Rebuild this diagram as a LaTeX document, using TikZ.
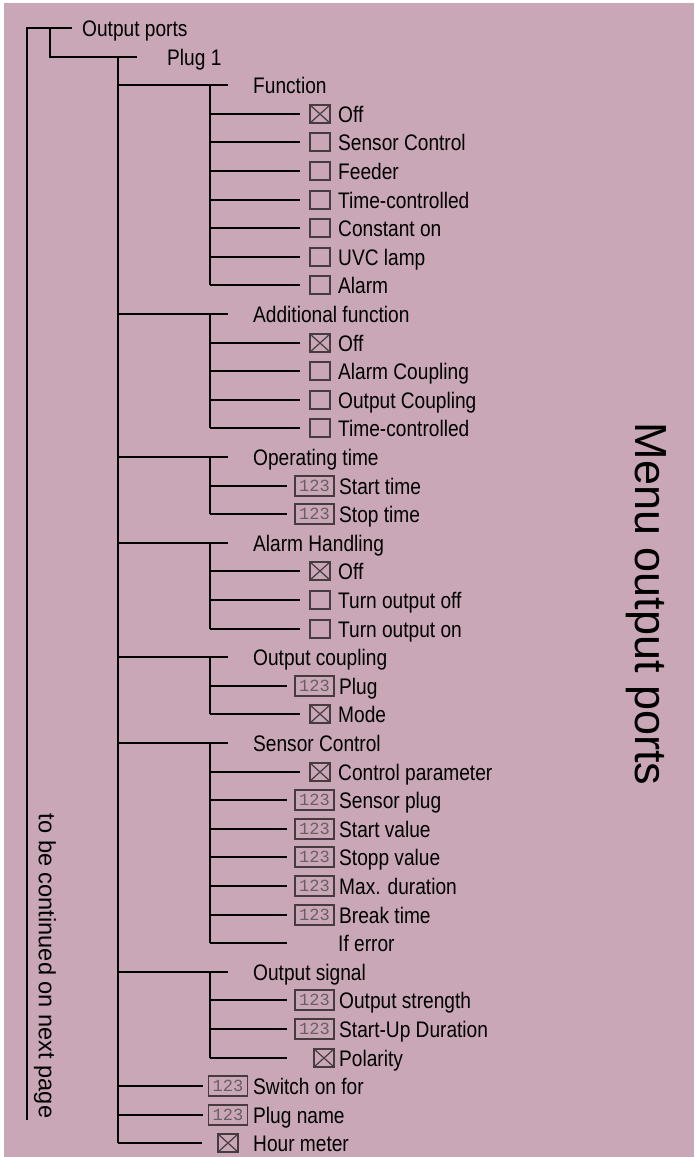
\documentclass[tikz,border=0pt]{standalone}
\usepackage{fontspec}
\setmainfont{Liberation Sans}
\newfontfamily\treeface[FakeStretch=0.85]{Liberation Sans}
\newfontfamily\monoface{Liberation Mono}
\definecolor{bg}{RGB}{201,167,182}
\definecolor{boxgray}{RGB}{70,60,64}
\definecolor{numgray}{RGB}{105,95,100}
\tikzset{
  tree/.style={line width=2pt, black},
  lbl/.style={anchor=base west, inner sep=0pt, font=\treeface\fontsize{22.5}{26}\selectfont},
  cbox/.style={draw=boxgray, line width=1.2pt, minimum width=20pt, minimum height=18pt, inner sep=0pt, outer sep=0pt},
  crossed/.style={path picture={\draw[boxgray,line width=1.2pt] (path picture bounding box.north west) -- (path picture bounding box.south east) (path picture bounding box.north east) -- (path picture bounding box.south west);}},
  nbox/.style={draw=boxgray, line width=1.2pt, minimum width=39pt, minimum height=20pt, inner sep=0pt, outer sep=0pt, text=numgray, font=\monoface\fontsize{17}{17}\selectfont}
}
% row position
\newcommand\ry[1]{round(28.6*#1)+28}
% level-3 items: #1 name, #2 row index, #3 text
\newcommand\ItemX[3]{%
  \coordinate (#1s) at (210,{\ry{#2}});
  \node[cbox,crossed] (#1b) at (320,{\ry{#2}}) {};
  \node[lbl] (#1) at (338,{\ry{#2}+8}) {#3};
  \draw[tree] (#1s) -- ([xshift=-10pt]#1b.west);}
\newcommand\ItemE[3]{%
  \coordinate (#1s) at (210,{\ry{#2}});
  \node[cbox] (#1b) at (320,{\ry{#2}}) {};
  \node[lbl] (#1) at (338,{\ry{#2}+8}) {#3};
  \draw[tree] (#1s) -- ([xshift=-10pt]#1b.west);}
\newcommand\ItemN[3]{%
  \coordinate (#1s) at (210,{\ry{#2}});
  \node[nbox] (#1b) at (314.5,{\ry{#2}}) {123};
  \node[lbl] (#1) at (339,{\ry{#2}+8}) {#3};
  \draw[tree] (#1s) -- ([xshift=-8pt]#1b.west);}
\newcommand\TGroup[3]{%
  \coordinate (#1s) at (118,{\ry{#2}});
  \coordinate (#1e) at (228,{\ry{#2}});
  \coordinate (#1v) at (210,{\ry{#2}});
  \node[lbl] (#1) at (253,{\ry{#2}+8}) {#3};
  \draw[tree] (#1s) -- (#1e);}
\begin{document}
\begin{tikzpicture}[x=1pt,y=-1pt]
\useasboundingbox (0,0) rectangle (694,1157);
\fill[white] (0,0) rectangle (694,1157);
\fill[bg] (4,3) rectangle (694,1157);

% level 0 and 1
\coordinate (r0) at (27,28);
\coordinate (r0b) at (27,1120);
\coordinate (r0e) at (72,28);
\node[lbl] (outp) at (82,36) {Output ports};
\draw[tree] (r0b) -- (r0) -- (r0e);
\coordinate (p1a) at (50,28);
\coordinate (p1b) at (50,{\ry{1}});
\coordinate (p1e) at (137,{\ry{1}});
\node[lbl] (plug1) at (167,{\ry{1}+8}) {Plug 1};
\draw[tree] (p1a) -- (p1b) -- (p1e);
\coordinate (l2top) at (118,{\ry{1}});
\coordinate (l2bot) at (118,{\ry{39}});
\draw[tree] (l2top) -- (l2bot);

% Function
\TGroup{fn}{2}{Function}
\ItemX{fa}{3}{Off}
\ItemE{fb}{4}{Sensor Control}
\ItemE{fc}{5}{Feeder}
\ItemE{fd}{6}{Time-controlled}
\ItemE{fe}{7}{Constant on}
\ItemE{ff}{8}{UVC lamp}
\ItemE{fg}{9}{Alarm}
\draw[tree] (fnv) -- (fgs);

% Additional function
\TGroup{af}{10}{Additional function}
\ItemX{aa}{11}{Off}
\ItemE{ab}{12}{Alarm Coupling}
\ItemE{ac}{13}{Output Coupling}
\ItemE{ad}{14}{Time-controlled}
\draw[tree] (afv) -- (ads);

% Operating time
\TGroup{ot}{15}{Operating time}
\ItemN{oa}{16}{Start time}
\ItemN{ob}{17}{Stop time}
\draw[tree] (otv) -- (obs);

% Alarm handling
\TGroup{ah}{18}{Alarm Handling}
\ItemX{ha}{19}{Off}
\ItemE{hb}{20}{Turn output off}
\ItemE{hc}{21}{Turn output on}
\draw[tree] (ahv) -- (hcs);

% Output coupling
\TGroup{oc}{22}{Output coupling}
\ItemN{ca}{23}{Plug}
\ItemX{cb}{24}{Mode}
\draw[tree] (ocv) -- (cbs);

% Sensor control
\TGroup{sc}{25}{Sensor Control}
\ItemX{sa}{26}{Control parameter}
\ItemN{sb}{27}{Sensor plug}
\ItemN{sd}{28}{Start value}
\ItemN{se}{29}{Stopp value}
\ItemN{sf}{30}{Max. duration}
\ItemN{sg}{31}{Break time}
\coordinate (shs) at (210,{\ry{32}});
\coordinate (she) at (287,{\ry{32}});
\node[lbl] (sh) at (338,{\ry{32}+8}) {If error};
\draw[tree] (shs) -- (she);
\draw[tree] (scv) -- (shs);

% Output signal
\TGroup{os}{33}{Output signal}
\ItemN{ga}{34}{Output strength}
\ItemN{gb}{35}{Start-Up Duration}
\coordinate (gcs) at (210,{\ry{36}});
\node[cbox,crossed] (gcb) at (324,{\ry{36}}) {};
\node[lbl] (gc) at (339,{\ry{36}+8}) {Polarity};
\draw[tree] (gcs) -- ([xshift=-27pt]gcb.west);
\draw[tree] (osv) -- (gcs);

% level-2 leaves
\coordinate (swS) at (118,{\ry{37}});
\node[nbox] (swb) at (228,{\ry{37}}) {123};
\node[lbl] (sw) at (253,{\ry{37}+8}) {Switch on for};
\draw[tree] (swS) -- ([xshift=-6pt]swb.west);
\coordinate (pnS) at (118,{\ry{38}});
\node[nbox] (pnb) at (228,{\ry{38}}) {123};
\node[lbl] (pn) at (253,{\ry{38}+8}) {Plug name};
\draw[tree] (pnS) -- ([xshift=-6pt]pnb.west);
\coordinate (hmS) at (118,{\ry{39}});
\node[cbox,crossed] (hmb) at (228,{\ry{39}}) {};
\node[lbl] (hm) at (253,{\ry{39}+8}) {Hour meter};
\draw[tree] (hmS) -- ([xshift=-16pt]hmb.west);

% rotated texts
\node[rotate=-90, inner sep=0pt, font=\fontsize{23.6}{26}\selectfont] (cont) at (45,966) {to be continued on next page};
\node[rotate=-90, inner sep=0pt, font=\fontsize{45}{50}\selectfont] (menu) at (646,604) {Menu output ports};
\end{tikzpicture}
\end{document}
